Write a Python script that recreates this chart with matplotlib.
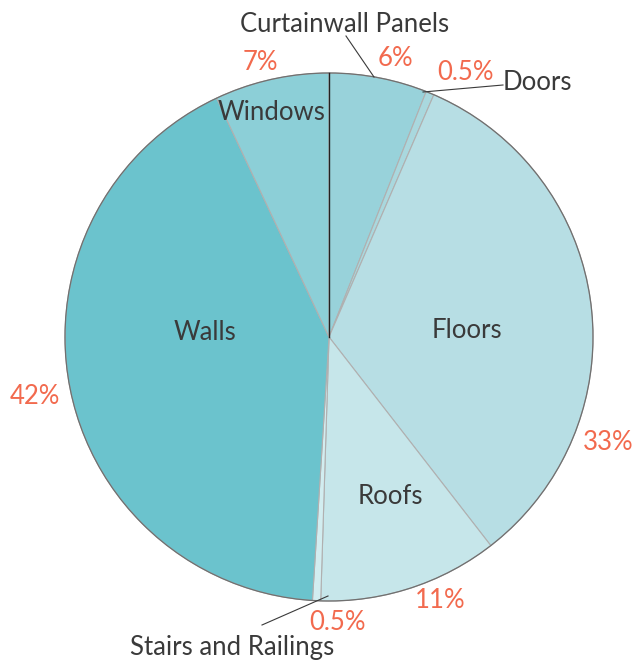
import matplotlib.pyplot as plt
from matplotlib.patches import Circle

# slice data, clockwise from 12 o'clock
categories = ["Curtainwall Panels", "Doors", "Floors", "Roofs",
              "Stairs and Railings", "Walls", "Windows"]
shares = [6, 0.5, 33, 11, 0.5, 42, 7]
pct_labels = ["6%", "0.5%", "33%", "11%", "0.5%", "42%", "7%"]
colors = ["#98d2da", "#a9d8de", "#b7dee4", "#c6e6ea",
          "#d2edf0", "#6bc3cd", "#8ccfd7"]

W, H = 636, 661
CX, CY, R = 329, H - 337, 264
ORANGE = "#f26a4e"
DARK = "#3a3a3a"

plt.rcParams['font.family'] = ['Lato', 'DejaVu Sans']

fig = plt.figure(figsize=(W / 100, H / 100), dpi=100)
ax = fig.add_axes([0, 0, 1, 1])

ax.pie(shares, colors=colors, startangle=90, counterclock=False,
       center=(CX, CY), radius=R, frame=True,
       wedgeprops=dict(edgecolor="#b0b0b0", linewidth=0.8))
ax.add_patch(Circle((CX, CY), R, fill=False, edgecolor="#707070", linewidth=0.9))
# dark divider at the top between Windows and Curtainwall
ax.plot([CX, CX], [CY, CY + R], color="#222222", lw=1.0)

ax.set_xlim(0, W)
ax.set_ylim(0, H)
ax.set_aspect("equal")
ax.axis("off")


def txt(x, y, s, color, size=18.5):
    ax.text(x, H - y, s, color=color, fontsize=size,
            ha="center", va="center")


# category names
txt(345, 24, categories[0], DARK)
txt(537, 82, categories[1], DARK)
txt(467, 330, categories[2], DARK)
txt(390, 497, categories[3], DARK)
txt(232, 648, categories[4], DARK)
txt(205, 332, categories[5], DARK)
txt(272, 112, categories[6], DARK)

# percentages
txt(395, 58, pct_labels[0], ORANGE)
txt(465, 72, pct_labels[1], ORANGE)
txt(608, 443, pct_labels[2], ORANGE)
txt(440, 601, pct_labels[3], ORANGE)
txt(337, 623, pct_labels[4], ORANGE)
txt(35, 397, pct_labels[5], ORANGE)
txt(260, 63, pct_labels[6], ORANGE)

# leader lines
for (x0, y0), (x1, y1) in [((346, 36), (374, 77)),
                           ((423, 92), (503, 85)),
                           ((328, 596), (262, 625))]:
    ax.plot([x0, x1], [H - y0, H - y1], color=DARK, lw=0.8)

fig.savefig("out.png", dpi=100)
